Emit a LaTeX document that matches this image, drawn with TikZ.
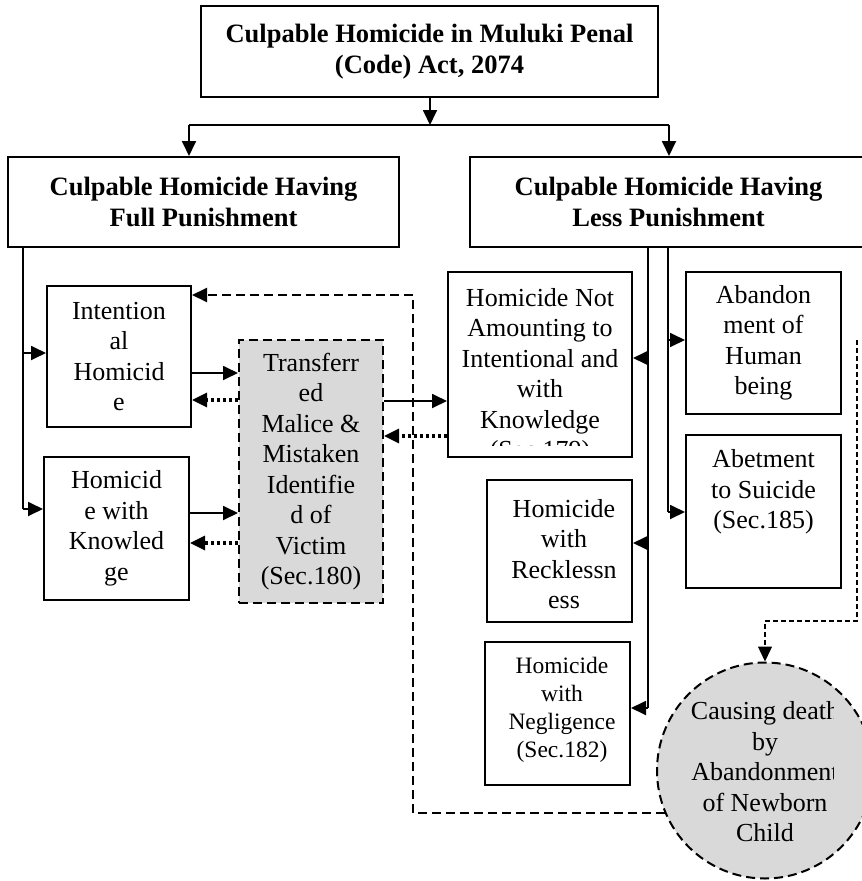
\documentclass[tikz,border=0pt]{standalone}
\usepackage{fontspec}
\setmainfont{Liberation Serif}
\usetikzlibrary{arrows.meta,calc}
\begin{document}
\begin{tikzpicture}[x=1pt,y=-1pt,
  box/.style={draw,line width=2pt,inner sep=0pt,align=center,font=\fontsize{26}{30.5}\selectfont},
  hbox/.style={box,font=\bfseries\fontsize{26.5}{31}\selectfont},
  txt/.style={inner sep=0pt,align=center,font=\fontsize{26}{30.5}\selectfont},
  ln/.style={line width=1.8pt},
  arr/.style={ln,-{Triangle[length=15pt,width=14pt]}},
  dotarr/.style={line width=3.2pt,dash pattern=on 3pt off 3pt,-{Triangle[length=15pt,width=14pt]}},
  dashbox/.style={line width=2pt,dash pattern=on 9pt off 5pt},
  dasharr/.style={line width=2pt,dash pattern=on 9pt off 5pt,-{Triangle[length=15pt,width=14pt]}},
  thinarr/.style={line width=1.3pt,dash pattern=on 5pt off 3pt,-{Triangle[length=15pt,width=14pt]}}
]
\useasboundingbox (0,0) rectangle (862,881);
\definecolor{shade}{RGB}{217,217,217}

% headers
\node[hbox,minimum width=457pt,minimum height=91pt] (top) at (429.5,51.5) {Culpable Homicide in Muluki Penal\\(Code) Act, 2074};
\node[hbox,minimum width=391pt,minimum height=90pt] (full) at (203.5,202) {Culpable Homicide Having\\Full Punishment};
\node[hbox,minimum width=397pt,minimum height=90pt] (less) at (668.5,202) {Culpable Homicide Having\\Less Punishment};

% left branch
\node[box,minimum width=144pt,minimum height=141pt] (int) at (119,356.5) {Intention\\al\\Homicid\\e};
\node[box,minimum width=145pt,minimum height=143pt] (hwk) at (116.5,528.5) {Homicid\\e with\\Knowled\\ge};
\node[box,dashbox,fill=shade,minimum width=144pt,minimum height=263pt] (trans) at (311,471.5) {Transferr\\ed\\Malice \&\\Mistaken\\Identifie\\d of\\Victim\\(Sec.180)};

% right branch
\node[box,minimum width=184pt,minimum height=185pt] (hna) at (540,364.5) {};
\begin{scope}
\clip (448,272) rectangle (632,445);
\node[txt] (hnat) at (540,376) {Homicide Not\\Amounting to\\Intentional and\\with\\Knowledge\\(Sec.179)};
\end{scope}
\node[box,minimum width=155pt,minimum height=142pt] (aban) at (763.5,343) {Abandon\\ment of\\Human\\being};
\node[box,minimum width=155pt,minimum height=153pt] (abet) at (763.5,511.5) {};
\node[txt] (abett) at (763.5,492) {Abetment\\to Suicide\\(Sec.185)};
\node[box,minimum width=145pt,minimum height=142pt] (reck) at (559.5,551) {};
\node[txt] (reckt) at (564,554) {Homicide\\with\\Recklessn\\ess};
\node[box,minimum width=145pt,minimum height=143pt] (neg) at (557.5,713.5) {};
\node[txt,font=\fontsize{23.5}{28}\selectfont] (negt) at (562,710) {Homicide\\with\\Negligence\\(Sec.182)};

% circle
\node[circle,draw,dashbox,fill=shade,minimum size=216pt,inner sep=0pt] (circ) at (765,770.5) {};
\begin{scope}
\clip (650,650) rectangle (833,881);
\node[txt] (circt) at (765,772) {Causing death\\by\\Abandonment\\of Newborn\\Child};
\end{scope}

% top connectors
\coordinate (jn) at (430,125);
\coordinate (jl) at (189,125);
\coordinate (jr) at (669,125);
\draw[arr] (top.south -| jn) -- (jn);
\draw[ln] (jl) -- (jr);
\draw[arr] (jl) -- (jl |- full.north);
\draw[arr] (jr) -- (jr |- less.north);

% left spine
\coordinate (b1) at (23,353);
\coordinate (b2) at (23,509);
\draw[ln] (full.south -| b1) -- (b2);
\draw[arr] (b1) -- (b1 -| int.west);
\draw[arr] (b2) -- (b2 -| hwk.west);

% to / from transferred malice
\draw[arr] (int.east |- 0,373) -- (trans.west |- 0,373);
\draw[dotarr] (trans.west |- 0,400) -- (int.east |- 0,400);
\draw[arr] (hwk.east |- 0,513) -- (trans.west |- 0,513);
\draw[dotarr] (trans.west |- 0,543) -- (hwk.east |- 0,543);
\draw[arr] (trans.east |- 0,401) -- (hna.west |- 0,401);
\draw[dotarr] (hna.west |- 0,436) -- (trans.east |- 0,436);

% right spines
\coordinate (r1) at (648,358);
\coordinate (r2) at (648,543);
\coordinate (r3) at (648,708);
\draw[ln] (less.south -| r1) -- (r3);
\draw[arr] (r1) -- (r1 -| hna.east);
\draw[arr] (r2) -- (r2 -| reck.east);
\draw[arr] (r3) -- (r3 -| neg.east);
\coordinate (s1) at (668,340);
\coordinate (s2) at (668,512);
\draw[ln] (less.south -| s1) -- (s2);
\draw[arr] (s1) -- (s1 -| aban.west);
\draw[arr] (s2) -- (s2 -| abet.west);

% dashed loop from circle back to intentional homicide
\coordinate (dtop) at (413,295);
\draw[dasharr] (circ.203) -| (dtop) -- (dtop -| int.east);

% thin dashed to circle
\coordinate (ds) at (857,340);
\coordinate (dbend) at (857,621);
\draw[thinarr] (ds) -- (dbend) -| (circ.north);
\end{tikzpicture}
\end{document}
